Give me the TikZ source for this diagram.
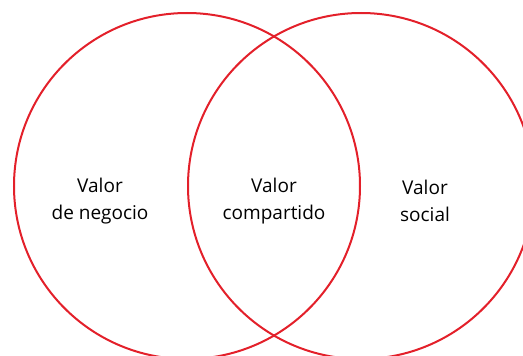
\documentclass[tikz,border=0pt]{standalone}
\usepackage{fontspec}
\setmainfont{Open Sans}
\definecolor{vennred}{HTML}{E3202A}
\begin{document}
\begin{tikzpicture}[x=1pt,y=-1pt,
  ring/.style={draw=vennred,line width=2pt},
  lbl/.style={align=center,font=\fontsize{19}{27.5}\selectfont,text=black,inner sep=0pt}]
\useasboundingbox (0,0) rectangle (523,356);
\node[ring,circle,minimum size=346pt,inner sep=0pt] (left) at (187,186) {};
\node[ring,circle,minimum size=346pt,inner sep=0pt] (right) at (361,186) {};
\node[lbl] (business) at (100,201) {Valor\\de negocio};
\node[lbl] (shared) at (274,201) {Valor\\compartido};
\node[lbl] (social) at (425,201) {Valor\\social};
\end{tikzpicture}
\end{document}
